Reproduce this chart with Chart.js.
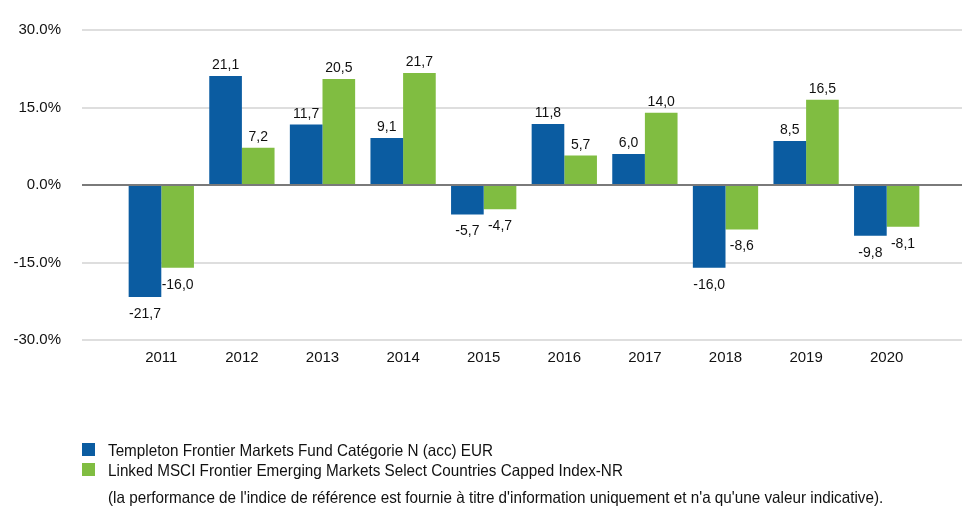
<!DOCTYPE html>
<html>
<head>
<meta charset="utf-8">
<script src="https://cdn.jsdelivr.net/npm/chart.js@4"></script>
<style>
  html, body { margin: 0; padding: 0; background: #fff; }
  .wrap { position: relative; width: 962px; height: 507px; overflow: hidden; font-family: 'Liberation Sans', Arial, sans-serif; }
  .wrap canvas { position: absolute; left: 0; top: 0; }
  .legend-row { position: absolute; left: 82px; height: 20px; line-height: 20px; font-size: 16.5px; color: #111; white-space: nowrap; }
  .legend-row .box { position: absolute; left: 0; top: 3px; width: 13px; height: 13px; }
  .legend-row span { position: absolute; left: 26px; top: 0; transform: scaleX(0.925); transform-origin: 0 0; }
  .note { position: absolute; left: 108px; top: 487px; line-height: 20px; font-size: 16.5px; color: #111; white-space: nowrap; transform: scaleX(0.925); transform-origin: 0 0; }
</style>
</head>
<body>
<div class="wrap">
  <canvas id="perf" width="962" height="507"></canvas>
  <div class="legend-row" style="top:440px"><div class="box" style="background:#0B5CA1"></div><span id="lab0"></span></div>
  <div class="legend-row" style="top:460px"><div class="box" style="background:#80BD41"></div><span id="lab1"></span></div>
  <div class="note" id="note"></div>
</div>
<script>
// calendar year performance, in %
var years = ['2011', '2012', '2013', '2014', '2015', '2016', '2017', '2018', '2019', '2020'];
var fundValues = [-21.7, 21.1, 11.7, 9.1, -5.7, 11.8, 6.0, -16.0, 8.5, -9.8];
var indexValues = [-16.0, 7.2, 20.5, 21.7, -4.7, 5.7, 14.0, -8.6, 16.5, -8.1];
var seriesNames = [
  'Templeton Frontier Markets Fund Catégorie N (acc) EUR',
  'Linked MSCI Frontier Emerging Markets Select Countries Capped Index-NR'
];
var yTicks = [-30, -15, 0, 15, 30];
var footNote = "(la performance de l'indice de référence est fournie à titre d'information uniquement et n'a qu'une valeur indicative).";

var Perf = Perf || {};

(function () {

  Perf = {

    colors: ['#0B5CA1', '#80BD41'],

    setup: function () {
      this.initLegend();
      this.initChart();
    },

    initLegend: function () {
      document.getElementById('lab0').textContent = seriesNames[0];
      document.getElementById('lab1').textContent = seriesNames[1];
      document.getElementById('note').textContent = footNote;
    },

    // prints the values above / under each bar, with a comma
    valueLabels: {
      id: 'valueLabels',
      afterDatasetsDraw: function (chart) {
        var ctx = chart.ctx;
        ctx.save();
        ctx.font = '14px "Liberation Sans", Arial, sans-serif';
        ctx.fillStyle = '#111';
        ctx.textAlign = 'center';
        ctx.textBaseline = 'alphabetic';
        chart.data.datasets.forEach(function (ds, i) {
          chart.getDatasetMeta(i).data.forEach(function (bar, j) {
            var v = ds.data[j],
              txt = v.toFixed(1).replace('.', ',');
            if (v >= 0) {
              ctx.fillText(txt, bar.x, bar.y - 7);
            } else {
              ctx.fillText(txt, bar.x, bar.y + 21);
            }
          });
        });
        ctx.restore();
      }
    },

    initChart: function () {
      var ctx = document.getElementById('perf');
      var gridColor = function (c) {
        return c.tick && c.tick.value === 0 ? '#7a7a7a' : '#dedede';
      };

      new Chart(ctx, {
        type: 'bar',
        data: {
          labels: years,
          datasets: [
            {
              label: seriesNames[0],
              data: fundValues,
              backgroundColor: this.colors[0],
              borderWidth: 0,
              categoryPercentage: 0.81,
              barPercentage: 1.0
            },
            {
              label: seriesNames[1],
              data: indexValues,
              backgroundColor: this.colors[1],
              borderWidth: 0,
              categoryPercentage: 0.81,
              barPercentage: 1.0
            }]
        },
        plugins: [this.valueLabels],
        options: {
          responsive: false,
          animation: false,
          layout: {
            padding: {top: 15, bottom: 140, left: 0, right: 0}
          },
          plugins: {
            legend: {display: false},
            tooltip: {enabled: false}
          },
          scales: {
            x: {
              grid: {display: false, drawTicks: false},
              border: {display: false},
              ticks: {
                padding: 9,
                color: '#111',
                font: {family: '"Liberation Sans", Arial, sans-serif', size: 15}
              },
              afterFit: function (scale) {
                scale.height = 27;
              }
            },
            y: {
              min: -30,
              max: 30,
              afterBuildTicks: function (scale) {
                scale.ticks = yTicks.map(function (v) {
                  return {value: v};
                });
              },
              grid: {
                color: gridColor,
                lineWidth: 2,
                tickLength: 39
              },
              border: {display: false},
              ticks: {
                padding: 21,
                color: '#111',
                font: {family: '"Liberation Sans", Arial, sans-serif', size: 15},
                callback: function (v) {
                  return v.toFixed(1) + '%';
                }
              },
              afterFit: function (scale) {
                scale.width = 121;
              }
            },
            // only there to carry the grid lines out to the right edge
            y2: {
              position: 'right',
              min: -30,
              max: 30,
              afterBuildTicks: function (scale) {
                scale.ticks = yTicks.map(function (v) {
                  return {value: v};
                });
              },
              grid: {
                color: gridColor,
                lineWidth: 2,
                tickLength: 35,
                drawOnChartArea: false
              },
              border: {display: false},
              ticks: {display: false},
              afterFit: function (scale) {
                scale.width = 35;
              }
            }
          }
        }
      });
    }
  };
})();

Perf.setup();
</script>
</body>
</html>
